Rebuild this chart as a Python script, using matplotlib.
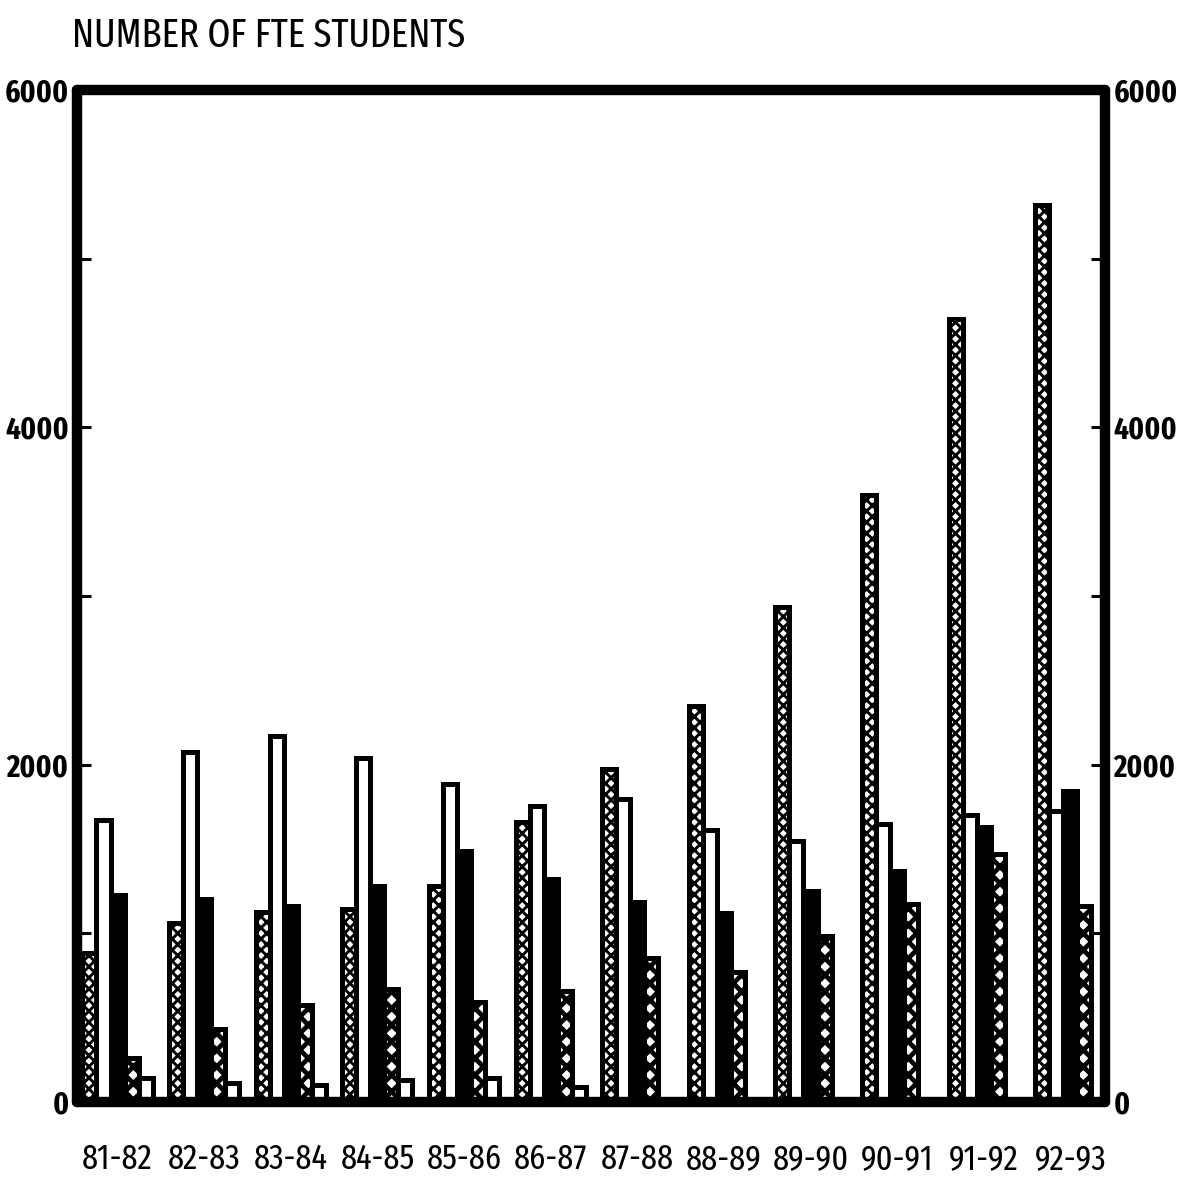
import os
import matplotlib
matplotlib.use("Agg")
import matplotlib.pyplot as plt
import numpy as np
from matplotlib import font_manager
from matplotlib.font_manager import FontProperties
from matplotlib.ticker import MultipleLocator, FuncFormatter

# ---------------- data ----------------
years = ['81-82', '82-83', '83-84', '84-85', '85-86', '86-87',
         '87-88', '88-89', '89-90', '90-91', '91-92', '92-93']
fte_dotted = [885, 1060, 1125, 1145, 1280, 1660, 1975, 2350, 2935, 3600, 4640, 5320]
fte_white = [1670, 2075, 2170, 2040, 1885, 1757, 1795, 1615, 1550, 1650, 1702, 1723]
fte_black = [1230, 1205, 1160, 1282, 1490, 1325, 1186, 1120, 1251, 1370, 1630, 1845]
fte_xhatch = [258, 430, 576, 670, 590, 659, 855, 773, 986, 1173, 1473, 1165]
fte_small = [140, 110, 100, 133, 145, 90, 0, 0, 0, 0, 0, 0]
labelled_ticks = [0, 2000, 4000, 6000]
title = 'NUMBER OF FTE STUDENTS'


# ---------------- find a condensed font ----------------
def pick_font(bold):
    best = None
    for f in font_manager.fontManager.ttflist:
        fn = os.path.basename(f.fname).lower()
        if 'italic' in fn or 'oblique' in fn:
            continue
        if 'extracondensed' in fn and 'semi' not in fn:
            rank = 0
        elif 'narrow' in fn:
            rank = 1
        elif 'semicondensed' in fn:
            rank = 3
        elif 'condensed' in fn:
            rank = 2
        else:
            continue
        rest = fn
        for wd in ('extracondensed', 'semicondensed', 'condensed', 'narrow'):
            rest = rest.replace(wd, '')
        has_bold = 'bold' in rest and not any(s in rest for s in ('semibold', 'extrabold', 'demibold'))
        other = any(s in rest for s in ('black', 'light', 'thin', 'medium', 'semibold',
                                        'extrabold', 'demibold', 'heavy'))
        if other:
            continue
        if bold != has_bold:
            continue
        if best is None or rank < best[0]:
            best = (rank, f.fname)
    if best is None:
        return FontProperties(family='DejaVu Sans', weight='bold' if bold else 'normal')
    return FontProperties(fname=best[1])


fp_reg = pick_font(False)
fp_bold = pick_font(True)

plt.rcParams['hatch.linewidth'] = 2.0

W, H = 1177, 1179
fig = plt.figure(figsize=(W / 100, H / 100), dpi=100)
ax = fig.add_axes([77 / W, 1 - 1102 / H, (1105 - 77) / W, (1102 - 90) / H])

x = np.arange(len(years))
w = 0.162
series = [
    (fte_dotted, dict(facecolor='white', hatch='xxx'), 2.1),
    (fte_white, dict(facecolor='white'), None),
    (fte_black, dict(facecolor='black'), None),
    (fte_xhatch, dict(facecolor='white', hatch='xx'), 3.4),
    (fte_small, dict(facecolor='white'), None),
]
for i, (vals, style, hlw) in enumerate(series):
    bars = ax.bar(x + (i - 2) * w, vals, width=w, edgecolor='black',
                  linewidth=3.6, zorder=2 + i, **style)
    if hlw is not None:
        for p in bars:
            if hasattr(p, 'set_hatch_linewidth'):
                p.set_hatch_linewidth(hlw)

ax.set_xlim(-0.468, 11.40)
ax.set_ylim(0, 6000)

for s in ax.spines.values():
    s.set_linewidth(7.5)
    s.set_capstyle('round')
    s.set_zorder(10)

ax.yaxis.set_major_locator(MultipleLocator(1000))
ax.yaxis.set_major_formatter(FuncFormatter(
    lambda v, p: f'{int(v)}' if int(round(v)) in labelled_ticks else ''))
ax.tick_params(axis='y', direction='in', length=10, width=2.2,
               left=True, right=True, labelleft=True, labelright=True, pad=6)
ax.set_xticks(x, years)
ax.tick_params(axis='x', length=0, pad=29)

ttl = fig.text(72 / W, 1 - 16 / H, title, ha='left', va='top',
               fontproperties=fp_reg, fontsize=28)

for t in ax.yaxis.get_major_ticks():
    t.label1.set_fontproperties(fp_bold)
    t.label2.set_fontproperties(fp_bold)
for lab in ax.get_xticklabels():
    lab.set_fontproperties(fp_reg)
    lab.set_fontsize(24)

# scale font sizes so text widths match the reference
fig.canvas.draw()
r = fig.canvas.get_renderer()


def fit(texts, base, target_w, max_pt):
    wd = max(t.get_window_extent(r).width for t in texts if t.get_text())
    size = min(base * target_w / wd, max_pt)
    for t in texts:
        t.set_fontsize(size)
    return size


fit([ttl], 28, 395, 36)
fit(ax.get_xticklabels(), 24, 76, 36)
ylab = [t.label1 for t in ax.yaxis.get_major_ticks()] + [t.label2 for t in ax.yaxis.get_major_ticks()]
ysize = fit(ylab, ylab[0].get_fontsize(), 64, 30)
ax.tick_params(axis='y', labelsize=ysize)

fig.savefig('out.png', dpi=100)
